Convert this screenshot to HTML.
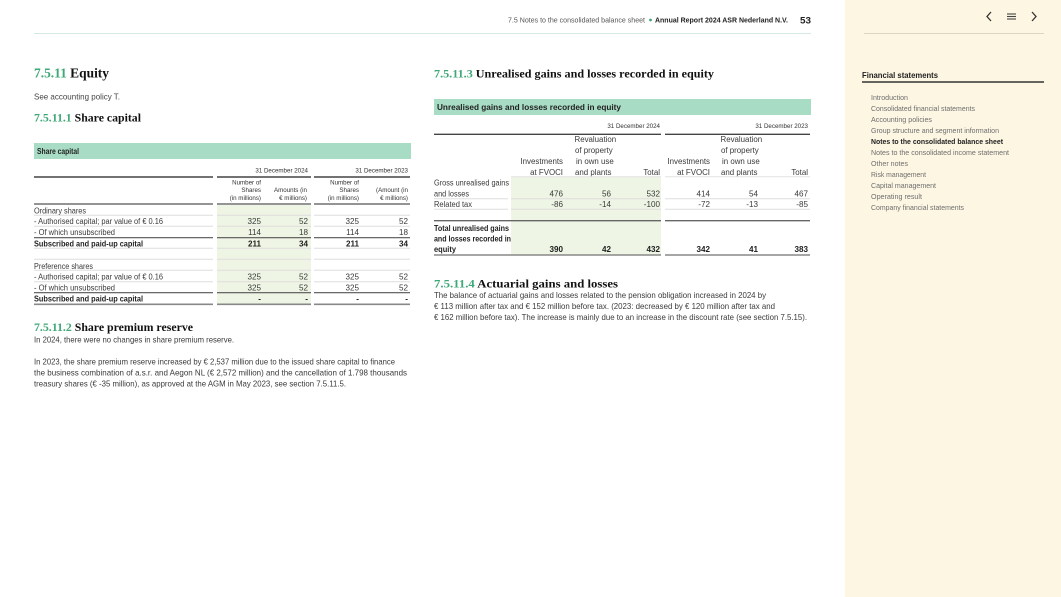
<!DOCTYPE html>
<html><head><meta charset="utf-8"><style>
html,body{margin:0;padding:0;background:#fff;}
svg{display:block;}
</style></head><body>
<svg width="1061" height="597" viewBox="0 0 1061 597" xmlns="http://www.w3.org/2000/svg" font-family="'Liberation Sans', Arial, sans-serif">
<rect x="0" y="0" width="1061" height="597" fill="#ffffff"/>
<!-- sidebar -->
<rect x="845" y="0" width="216" height="597" fill="#fdf6e3"/>
<polyline points="991,12 987,16.5 991,21" fill="none" stroke="#333" stroke-width="1.3"/>
<g stroke="#444" stroke-width="1.1"><line x1="1007" y1="14" x2="1016" y2="14"/><line x1="1007" y1="16.5" x2="1016" y2="16.5"/><line x1="1007" y1="19" x2="1016" y2="19"/></g>
<polyline points="1032,12 1036,16.5 1032,21" fill="none" stroke="#333" stroke-width="1.3"/>
<line x1="864" y1="33.5" x2="1044" y2="33.5" stroke="#dcd5c4" stroke-width="1"/>
<text x="862" y="78" font-size="8.2" font-weight="bold" fill="#222" textLength="76" lengthAdjust="spacingAndGlyphs">Financial statements</text>
<line x1="862" y1="82" x2="1044" y2="82" stroke="#333" stroke-width="1.4"/>
<g font-size="7.5" fill="#6e6e6e">
<text x="871" y="100" textLength="37" lengthAdjust="spacingAndGlyphs">Introduction</text>
<text x="871" y="111" textLength="104" lengthAdjust="spacingAndGlyphs">Consolidated financial statements</text>
<text x="871" y="122" textLength="61" lengthAdjust="spacingAndGlyphs">Accounting policies</text>
<text x="871" y="133" textLength="128" lengthAdjust="spacingAndGlyphs">Group structure and segment information</text>
<text x="871" y="144" textLength="132" lengthAdjust="spacingAndGlyphs" font-weight="bold" fill="#222">Notes to the consolidated balance sheet</text>
<text x="871" y="155" textLength="138" lengthAdjust="spacingAndGlyphs">Notes to the consolidated income statement</text>
<text x="871" y="166" textLength="37" lengthAdjust="spacingAndGlyphs">Other notes</text>
<text x="871" y="177" textLength="55" lengthAdjust="spacingAndGlyphs">Risk management</text>
<text x="871" y="188" textLength="65" lengthAdjust="spacingAndGlyphs">Capital management</text>
<text x="871" y="199" textLength="51" lengthAdjust="spacingAndGlyphs">Operating result</text>
<text x="871" y="210" textLength="93" lengthAdjust="spacingAndGlyphs">Company financial statements</text>
</g>

<!-- header -->
<text x="508" y="22.5" font-size="7.5" fill="#555" textLength="137" lengthAdjust="spacingAndGlyphs">7.5 Notes to the consolidated balance sheet</text>
<circle cx="650.5" cy="20" r="1.4" fill="#3fa877"/>
<text x="655" y="22.5" font-size="7.5" font-weight="bold" fill="#222" textLength="133" lengthAdjust="spacingAndGlyphs">Annual Report 2024 ASR Nederland N.V.</text>
<text x="800" y="23.5" font-size="9.6" font-weight="bold" fill="#222" textLength="11" lengthAdjust="spacingAndGlyphs">53</text>
<line x1="34" y1="33.5" x2="811" y2="33.5" stroke="#d3e9e2" stroke-width="1"/>

<!-- left headings -->
<text x="34" y="77.5" font-family="'Liberation Serif', serif" font-size="13.5" font-weight="bold" fill="#111" textLength="75" lengthAdjust="spacingAndGlyphs"><tspan fill="#3fa877">7.5.11</tspan> Equity</text>
<text x="34" y="99.5" font-size="8.1" fill="#444" textLength="86" lengthAdjust="spacingAndGlyphs">See accounting policy T.</text>
<text x="34" y="121.5" font-family="'Liberation Serif', serif" font-size="12" font-weight="bold" fill="#111" textLength="107" lengthAdjust="spacingAndGlyphs"><tspan fill="#3fa877">7.5.11.1</tspan> Share capital</text>

<!-- share capital table -->
<rect x="34" y="143" width="377" height="16" fill="#a8dcc5"/>
<text x="37" y="154" font-size="8.2" font-weight="bold" fill="#222" textLength="42" lengthAdjust="spacingAndGlyphs">Share capital</text>
<rect x="217" y="205" width="94" height="99" fill="#eef5e4"/>
<g font-size="6.2" fill="#333" text-anchor="end">
<text x="308" y="172.5">31 December 2024</text>
<text x="408" y="172.5">31 December 2023</text>
<text x="261" y="184.5">Number of</text>
<text x="261" y="192">Shares</text>
<text x="261" y="200">(in millions)</text>
<text x="307" y="192">Amounts (in</text>
<text x="307" y="200">€ millions)</text>
<text x="359" y="184.5">Number of</text>
<text x="359" y="192">Shares</text>
<text x="359" y="200">(in millions)</text>
<text x="408" y="192">(Amount (in</text>
<text x="408" y="200">€ millions)</text>
</g>
<g stroke="#444" stroke-width="1.5">
<line x1="34" y1="177" x2="213" y2="177"/><line x1="217" y1="177" x2="311" y2="177"/><line x1="314" y1="177" x2="410" y2="177"/>
</g>
<g stroke="#555" stroke-width="1.2">
<line x1="34" y1="204" x2="213" y2="204"/><line x1="217" y1="204" x2="311" y2="204"/><line x1="314" y1="204" x2="410" y2="204"/>
<line x1="34" y1="237.7" x2="213" y2="237.7"/><line x1="217" y1="237.7" x2="311" y2="237.7"/><line x1="314" y1="237.7" x2="410" y2="237.7"/>
<line x1="34" y1="292.7" x2="213" y2="292.7"/><line x1="217" y1="292.7" x2="311" y2="292.7"/><line x1="314" y1="292.7" x2="410" y2="292.7"/>
</g>
<g stroke="#888" stroke-width="1.6">
<line x1="34" y1="304.3" x2="213" y2="304.3"/><line x1="217" y1="304.3" x2="311" y2="304.3"/><line x1="314" y1="304.3" x2="410" y2="304.3"/>
</g>
<g stroke="#ddd" stroke-width="1">
<line x1="34" y1="215.3" x2="213" y2="215.3"/><line x1="217" y1="215.3" x2="311" y2="215.3"/><line x1="314" y1="215.3" x2="410" y2="215.3"/>
<line x1="34" y1="226.3" x2="213" y2="226.3"/><line x1="217" y1="226.3" x2="311" y2="226.3"/><line x1="314" y1="226.3" x2="410" y2="226.3"/>
<line x1="34" y1="248.3" x2="213" y2="248.3"/><line x1="217" y1="248.3" x2="311" y2="248.3"/><line x1="314" y1="248.3" x2="410" y2="248.3"/>
<line x1="34" y1="259.3" x2="213" y2="259.3"/><line x1="217" y1="259.3" x2="311" y2="259.3"/><line x1="314" y1="259.3" x2="410" y2="259.3"/>
<line x1="34" y1="270.3" x2="213" y2="270.3"/><line x1="217" y1="270.3" x2="311" y2="270.3"/><line x1="314" y1="270.3" x2="410" y2="270.3"/>
<line x1="34" y1="281.7" x2="213" y2="281.7"/><line x1="217" y1="281.7" x2="311" y2="281.7"/><line x1="314" y1="281.7" x2="410" y2="281.7"/>
</g>
<g font-size="7.9" fill="#3a3a3a">
<text x="34" y="213.7" textLength="52" lengthAdjust="spacingAndGlyphs">Ordinary shares</text>
<text x="34" y="224.2" textLength="129" lengthAdjust="spacingAndGlyphs">- Authorised capital; par value of € 0.16</text>
<text x="34" y="235.2" textLength="81" lengthAdjust="spacingAndGlyphs">- Of which unsubscribed</text>
<text x="34" y="246.6" textLength="109" lengthAdjust="spacingAndGlyphs" font-weight="bold" fill="#1e1e1e">Subscribed and paid-up capital</text>
<text x="34" y="269.2" textLength="59" lengthAdjust="spacingAndGlyphs">Preference shares</text>
<text x="34" y="279.7" textLength="129" lengthAdjust="spacingAndGlyphs">- Authorised capital; par value of € 0.16</text>
<text x="34" y="290.7" textLength="81" lengthAdjust="spacingAndGlyphs">- Of which unsubscribed</text>
<text x="34" y="301.7" textLength="109" lengthAdjust="spacingAndGlyphs" font-weight="bold" fill="#1e1e1e">Subscribed and paid-up capital</text>
</g>
<g font-size="8.1" fill="#3a3a3a" text-anchor="end">
<text x="261" y="224.2">325</text><text x="308" y="224.2">52</text><text x="359" y="224.2">325</text><text x="408" y="224.2">52</text>
<text x="261" y="235.2">114</text><text x="308" y="235.2">18</text><text x="359" y="235.2">114</text><text x="408" y="235.2">18</text>
<text x="261" y="279.7">325</text><text x="308" y="279.7">52</text><text x="359" y="279.7">325</text><text x="408" y="279.7">52</text>
<text x="261" y="290.7">325</text><text x="308" y="290.7">52</text><text x="359" y="290.7">325</text><text x="408" y="290.7">52</text>
<g font-weight="bold" fill="#1e1e1e">
<text x="261" y="246.6">211</text><text x="308" y="246.6">34</text><text x="359" y="246.6">211</text><text x="408" y="246.6">34</text>
<text x="261" y="301.7">-</text><text x="308" y="301.7">-</text><text x="359" y="301.7">-</text><text x="408" y="301.7">-</text>
</g>
</g>

<!-- share premium -->
<text x="34" y="331" font-family="'Liberation Serif', serif" font-size="12" font-weight="bold" fill="#111" textLength="159" lengthAdjust="spacingAndGlyphs"><tspan fill="#3fa877">7.5.11.2</tspan> Share premium reserve</text>
<g font-size="8.2" fill="#3a3a3a">
<text x="34" y="342.7" textLength="200" lengthAdjust="spacingAndGlyphs">In 2024, there were no changes in share premium reserve.</text>
<text x="34" y="364.7" textLength="361" lengthAdjust="spacingAndGlyphs">In 2023, the share premium reserve increased by € 2,537 million due to the issued share capital to finance</text>
<text x="34" y="375.7" textLength="373" lengthAdjust="spacingAndGlyphs">the business combination of a.s.r. and Aegon NL (€ 2,572 million) and the cancellation of 1.798 thousands</text>
<text x="34" y="386.7" textLength="312" lengthAdjust="spacingAndGlyphs">treasury shares (€ -35 million), as approved at the AGM in May 2023, see section 7.5.11.5.</text>
</g>

<!-- right: unrealised gains -->
<text x="434" y="77.5" font-family="'Liberation Serif', serif" font-size="12" font-weight="bold" fill="#111" textLength="280" lengthAdjust="spacingAndGlyphs"><tspan fill="#3fa877">7.5.11.3</tspan> Unrealised gains and losses recorded in equity</text>
<rect x="434" y="99" width="377" height="16" fill="#a8dcc5"/>
<text x="437" y="110" font-size="8.2" font-weight="bold" fill="#222" textLength="184" lengthAdjust="spacingAndGlyphs">Unrealised gains and losses recorded in equity</text>
<rect x="511" y="177" width="150" height="78" fill="#eef5e4"/>
<g font-size="6.2" fill="#333" text-anchor="end">
<text x="660" y="128">31 December 2024</text>
<text x="808" y="128">31 December 2023</text>
</g>
<g stroke="#444" stroke-width="1.4">
<line x1="434" y1="134.3" x2="661" y2="134.3"/><line x1="665" y1="134.3" x2="810" y2="134.3"/>
</g>
<g font-size="7.9" fill="#3a3a3a">
<text x="574.5" y="142">Revaluation</text>
<text x="575" y="153">of property</text>
<text x="576" y="164">in own use</text>
<text x="575" y="175">and plants</text>
<text x="720.5" y="142">Revaluation</text>
<text x="721" y="153">of property</text>
<text x="722" y="164">in own use</text>
<text x="721" y="175">and plants</text>
</g>
<g font-size="7.9" fill="#3a3a3a" text-anchor="end">
<text x="563" y="164">Investments</text>
<text x="563" y="175">at FVOCI</text>
<text x="660" y="175">Total</text>
<text x="710" y="164">Investments</text>
<text x="710" y="175">at FVOCI</text>
<text x="808" y="175">Total</text>
</g>
<g stroke="#e2e2e2" stroke-width="1">
<line x1="511" y1="176.7" x2="661" y2="176.7"/><line x1="665" y1="176.7" x2="810" y2="176.7"/>
</g>
<g stroke="#ddd" stroke-width="1">
<line x1="434" y1="198.8" x2="508" y2="198.8"/><line x1="511" y1="198.8" x2="661" y2="198.8"/><line x1="665" y1="198.8" x2="810" y2="198.8"/>
<line x1="434" y1="209.3" x2="508" y2="209.3"/><line x1="511" y1="209.3" x2="661" y2="209.3"/><line x1="665" y1="209.3" x2="810" y2="209.3"/>
</g>
<g stroke="#666" stroke-width="1.4">
<line x1="434" y1="220.7" x2="661" y2="220.7"/><line x1="665" y1="220.7" x2="810" y2="220.7"/>
</g>
<g stroke="#888" stroke-width="1.6">
<line x1="434" y1="255" x2="661" y2="255"/><line x1="665" y1="255" x2="810" y2="255"/>
</g>
<g font-size="7.9" fill="#3a3a3a">
<text x="434" y="185.5" textLength="75" lengthAdjust="spacingAndGlyphs">Gross unrealised gains</text>
<text x="434" y="196.5" textLength="35" lengthAdjust="spacingAndGlyphs">and losses</text>
<text x="434" y="207" textLength="38" lengthAdjust="spacingAndGlyphs">Related tax</text>
<g font-weight="bold" fill="#1e1e1e">
<text x="434" y="231" textLength="75" lengthAdjust="spacingAndGlyphs">Total unrealised gains</text>
<text x="434" y="241.5" textLength="77" lengthAdjust="spacingAndGlyphs">and losses recorded in</text>
<text x="434" y="252" textLength="22" lengthAdjust="spacingAndGlyphs">equity</text>
</g>
</g>
<g font-size="8.1" fill="#3a3a3a" text-anchor="end">
<text x="563" y="196.5">476</text><text x="611" y="196.5">56</text><text x="660" y="196.5">532</text><text x="710" y="196.5">414</text><text x="758" y="196.5">54</text><text x="808" y="196.5">467</text>
<text x="563" y="207">-86</text><text x="611" y="207">-14</text><text x="660" y="207">-100</text><text x="710" y="207">-72</text><text x="758" y="207">-13</text><text x="808" y="207">-85</text>
<g font-weight="bold" fill="#1e1e1e">
<text x="563" y="252">390</text><text x="611" y="252">42</text><text x="660" y="252">432</text><text x="710" y="252">342</text><text x="758" y="252">41</text><text x="808" y="252">383</text>
</g>
</g>

<!-- actuarial -->
<text x="434" y="287.3" font-family="'Liberation Serif', serif" font-size="12" font-weight="bold" fill="#111" textLength="184" lengthAdjust="spacingAndGlyphs"><tspan fill="#3fa877">7.5.11.4</tspan> Actuarial gains and losses</text>
<g font-size="8.2" fill="#3a3a3a">
<text x="434" y="298.2" textLength="332" lengthAdjust="spacingAndGlyphs">The balance of actuarial gains and losses related to the pension obligation increased in 2024 by</text>
<text x="434" y="309.2" textLength="341" lengthAdjust="spacingAndGlyphs">€ 113 million after tax and € 152 million before tax. (2023: decreased by € 120 million after tax and</text>
<text x="434" y="320.2" textLength="373" lengthAdjust="spacingAndGlyphs">€ 162 million before tax). The increase is mainly due to an increase in the discount rate (see section 7.5.15).</text>
</g>
</svg>
</body></html>
